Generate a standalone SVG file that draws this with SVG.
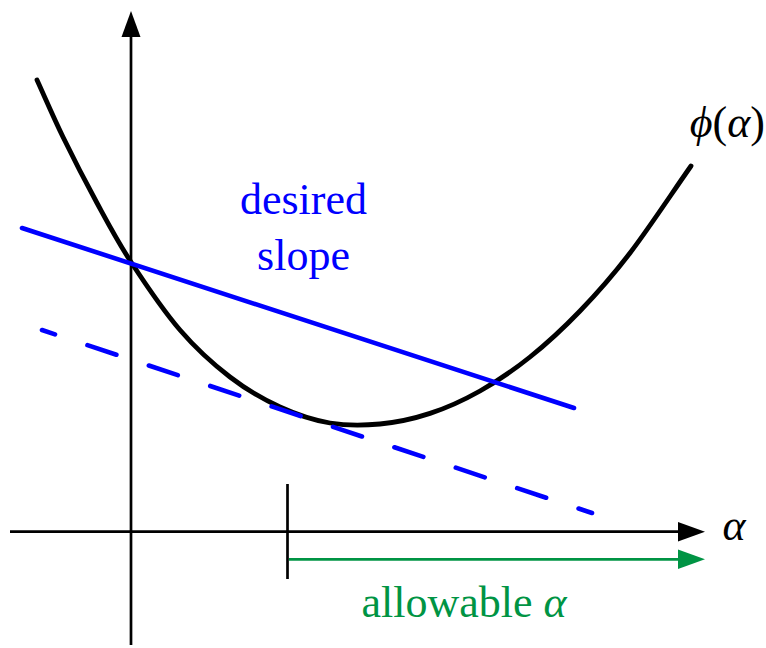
<svg xmlns="http://www.w3.org/2000/svg" width="766" height="648" viewBox="0 0 766 648">
<style>
.axis{stroke:#000;stroke-width:2.7;fill:none}
.curve{stroke:#000;stroke-width:4.8;fill:none;stroke-linecap:round;stroke-linejoin:round}
.slope{stroke:#0000ff;stroke-width:4.6;fill:none;stroke-linecap:round}
.dash{stroke-dasharray:30.5 34.2;stroke-dashoffset:16.8}
.green{stroke:#009444;stroke-width:2.8;fill:none}
.lbl{font-family:"Liberation Serif","DejaVu Serif",serif;font-size:44px}
.it{font-style:italic}
</style>
<g id="axes">
  <line class="axis" x1="10" y1="531.7" x2="682" y2="531.7"/>
  <polygon points="705,531.7 678,522 678,541.4" fill="#000"/>
  <line class="axis" x1="131" y1="645" x2="131" y2="34"/>
  <polygon points="131,11 121.5,37 140.5,37" fill="#000"/>
  <text class="lbl it" x="734" y="540" text-anchor="middle" font-size="42">α</text>
</g>
<g id="phi-curve">
  <path class="curve" d="M37,80 C45.67,99 53,116.5 63,137 C73,157.5 85.67,182.17 97,203 C108.33,223.83 117.17,240.83 131,262 C144.83,283.17 163.5,310.83 180,330 C196.5,349.17 213.33,364.17 230,377 C246.67,389.83 263.33,399.33 280,407 C296.67,414.67 313.33,420.17 330,423 C346.67,425.83 363.33,425.6 380,424 C396.67,422.4 413.33,418.9 430,413.4 C446.67,407.9 463.33,400.4 480,391 C496.67,381.6 513.33,370.33 530,357 C546.67,343.67 563.33,328.33 580,311 C596.67,293.67 611.5,277.17 630,253 C648.5,228.83 670.67,195 691,166"/>
  <text class="lbl" x="765" y="137" text-anchor="end" font-size="45"><tspan class="it">ϕ</tspan>(<tspan class="it">α</tspan>)</text>
</g>
<g id="desired-slope">
  <line class="slope" x1="22" y1="228" x2="574" y2="408"/>
  <text class="lbl" x="303.5" y="214" text-anchor="middle" fill="#0000ff">desired</text>
  <text class="lbl" x="303.5" y="270" text-anchor="middle" fill="#0000ff">slope</text>
</g>
<g id="tangent-dashed">
  <line class="slope dash" x1="42" y1="330" x2="592" y2="513"/>
</g>
<g id="allowable">
  <line class="axis" x1="287.5" y1="484" x2="287.5" y2="579"/>
  <line class="green" x1="289" y1="559.3" x2="682" y2="559.3"/>
  <polygon points="705,559.3 678,549.5 678,569.1" fill="#009444"/>
  <text class="lbl" x="464" y="617" text-anchor="middle" fill="#009444">allowable <tspan class="it">α</tspan></text>
</g>
</svg>
